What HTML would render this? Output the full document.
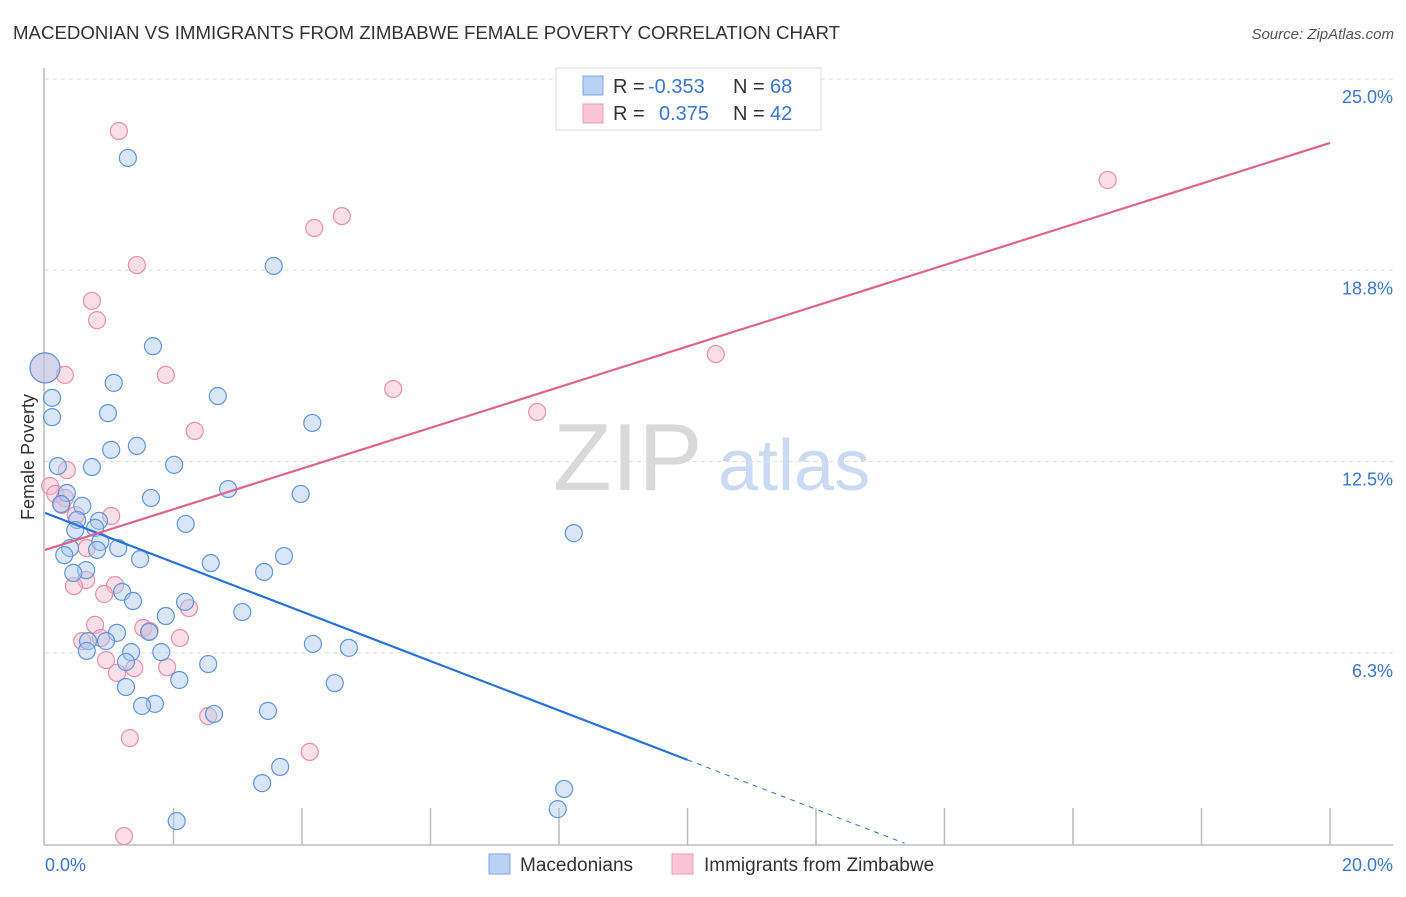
<!DOCTYPE html>
<html><head><meta charset="utf-8"><style>
body{margin:0;background:#fff;}
svg text{font-family:"Liberation Sans",sans-serif;}
</style></head><body>
<svg id="chart" width="1406" height="892" xmlns="http://www.w3.org/2000/svg">
<text x="13" y="39" font-size="18" fill="#333" textLength="827" lengthAdjust="spacingAndGlyphs">MACEDONIAN VS IMMIGRANTS FROM ZIMBABWE FEMALE POVERTY CORRELATION CHART</text>
<text x="1394" y="39" font-size="15" fill="#555" font-style="italic" text-anchor="end">Source: ZipAtlas.com</text>
<g>
<text x="553" y="490" font-size="96" font-family="Liberation Serif,serif" fill="#d9d9d9">ZIP</text>
<text x="718" y="490" font-size="72" fill="#c9daf2">atlas</text>
</g>
<g id="grid"></g>
<g id="axes"></g>
<g id="marks"></g>
<g>
<rect x="556" y="68" width="265" height="62" fill="#fff" stroke="#ddd"/>
<rect x="583" y="76" width="20" height="19" fill="#b9d2f4" stroke="#7aa6e6"/>
<rect x="583" y="104" width="20" height="19" fill="#f9c5d4" stroke="#ec9ab3"/>
<text x="613" y="93" font-size="20" fill="#333">R =</text>
<text x="648" y="93" font-size="20" fill="#3a76d0">-0.353</text>
<text x="733" y="93" font-size="20" fill="#333">N =</text>
<text x="770" y="93" font-size="20" fill="#3a76d0">68</text>
<text x="613" y="120" font-size="20" fill="#333">R =</text>
<text x="659" y="120" font-size="20" fill="#3a76d0">0.375</text>
<text x="733" y="120" font-size="20" fill="#333">N =</text>
<text x="770" y="120" font-size="20" fill="#3a76d0">42</text>
</g>
<g>
<rect x="489" y="854" width="21" height="20" fill="#b9d2f4" stroke="#7aa6e6"/>
<text x="520" y="871" font-size="19" fill="#333">Macedonians</text>
<rect x="672" y="854" width="21" height="20" fill="#f9c5d4" stroke="#ec9ab3"/>
<text x="704" y="871" font-size="19" fill="#333">Immigrants from Zimbabwe</text>
</g>
<text transform="translate(34,457) rotate(-90)" font-size="18" fill="#333" text-anchor="middle">Female Poverty</text>
</svg>
<script>
const blueX=[1.29,3.56,1.68,1.07,2.69,0.98,0.11,0.11,4.16,1.03,1.43,0.20,0.73,2.01,2.85,1.65,3.98,0.34,0.58,0.25,0.50,0.84,0.78,2.19,0.47,8.23,0.86,1.14,0.39,0.30,0.81,1.48,3.72,2.58,3.41,0.64,0.44,1.20,1.37,2.18,1.88,3.07,1.12,1.62,0.67,0.95,4.17,4.73,1.34,1.81,0.65,1.26,2.54,2.09,4.51,1.26,1.71,1.51,2.63,3.47,3.66,3.38,8.08,7.98,2.05,0];
const blueY=[22.42,18.89,16.27,15.07,14.64,14.08,14.58,13.95,13.76,12.88,13.01,12.35,12.32,12.39,11.60,11.31,11.44,11.47,11.05,11.11,10.59,10.56,10.33,10.46,10.26,10.16,9.87,9.67,9.67,9.44,9.61,9.31,9.41,9.18,8.89,8.95,8.86,8.24,7.94,7.91,7.45,7.58,6.90,6.93,6.63,6.63,6.54,6.41,6.27,6.27,6.31,5.95,5.88,5.36,5.26,5.13,4.58,4.51,4.25,4.35,2.52,1.99,1.80,1.14,0.75,15.56];
const pinkX=[1.15,4.62,4.19,1.43,0.73,0.81,0,0.31,1.88,5.42,7.66,2.33,10.44,16.54,0.34,0.08,0.16,0.31,0.26,0.48,1.03,0.65,0.64,0.45,1.09,0.92,2.24,0.78,1.53,1.63,2.10,0.58,0.87,0.95,1.12,1.39,1.90,2.54,1.32,4.12,1.23];
const pinkY=[23.30,20.52,20.13,18.92,17.75,17.12,15.56,15.33,15.33,14.87,14.12,13.50,16.01,21.70,12.22,11.70,11.44,11.31,11.08,10.75,10.72,9.67,8.63,8.43,8.46,8.17,7.71,7.16,7.06,6.96,6.73,6.63,6.73,6.01,5.59,5.75,5.78,4.18,3.46,3.01,0.26];
const yTicks=[6.25,12.5,18.75,25];
const yTickLabels=["6.3%","12.5%","18.8%","25.0%"];
const xTickLabels=["0.0%","20.0%"];
const blueTrend=[10.82,-0.807];
const pinkTrend=[9.61,0.665];
const blueSolidEnd=10, blueDashEnd=13.38;

const NS="http://www.w3.org/2000/svg";
const X0=45,X1=1330,Y0=844,PXV=30.6;
const sx=v=>X0+(v/20)*(X1-X0);
const sy=v=>Y0-v*PXV;
function mk(tag,attrs,parent){const e=document.createElementNS(NS,tag);for(const k in attrs)e.setAttribute(k,attrs[k]);parent.appendChild(e);return e;}
const grid=document.getElementById('grid'),axes=document.getElementById('axes'),marks=document.getElementById('marks');
yTicks.forEach((t,i)=>{
  const l=mk('line',{x1:X0,x2:1393,y1:sy(t),y2:sy(t),stroke:'#ddd','stroke-dasharray':'4,4'},grid);
  
  
  const tx=mk('text',{x:1393,y:sy(t)+24,'font-size':18,fill:'#3a76d0','text-anchor':'end'},axes);
  tx.textContent=yTickLabels[i];
  
  
});
const ya=mk('line',{x1:44,x2:44,y1:68,y2:845,stroke:'#bbb','stroke-width':1.5},axes);


const xa=mk('line',{x1:44,x2:1393,y1:845,y2:845,stroke:'#bbb','stroke-width':1.5},axes);


for(let i=1;i<=10;i++){
  const tk=mk('line',{x1:sx(i*2),x2:sx(i*2),y1:808,y2:845,stroke:'#bbb','stroke-width':1.5},axes);
  
  
}
[[0,'start',45],[20,'end',1393]].forEach((a,i)=>{
  const tx=mk('text',{x:a[2],y:871,'font-size':18,fill:'#3a76d0','text-anchor':a[1]},axes);
  tx.textContent=xTickLabels[i];
  
  
});
function dots(xs,ys,fill,stroke,name){
  xs.forEach((x,i)=>{
    const big=(x===0&&ys[i]>15);
    const c=mk('circle',{cx:sx(x),cy:sy(ys[i]),r:big?15:8.5,fill:fill,'fill-opacity':0.45,stroke:stroke,'stroke-width':1.2},marks);
    
    
  });
}
dots(pinkX,pinkY,'#f7b8cb','#e98fab','point-zimbabwe');
dots(blueX,blueY,'#a9c8f0','#5f95dd','point-macedonian');
const bl=mk('line',{x1:sx(0),y1:sy(blueTrend[0]),x2:sx(blueSolidEnd),y2:sy(blueTrend[0]+blueTrend[1]*blueSolidEnd),stroke:'#2a72d8','stroke-width':2.2},marks);


const bd=mk('line',{x1:sx(blueSolidEnd),y1:sy(blueTrend[0]+blueTrend[1]*blueSolidEnd),x2:sx(blueDashEnd),y2:sy(blueTrend[0]+blueTrend[1]*blueDashEnd),stroke:'#2a72d8','stroke-width':1,'stroke-dasharray':'5,5'},marks);


const pl=mk('line',{x1:sx(0),y1:sy(pinkTrend[0]),x2:sx(20),y2:sy(pinkTrend[0]+pinkTrend[1]*20),stroke:'#e0628e','stroke-width':2.2},marks);


</script>
</body></html>
